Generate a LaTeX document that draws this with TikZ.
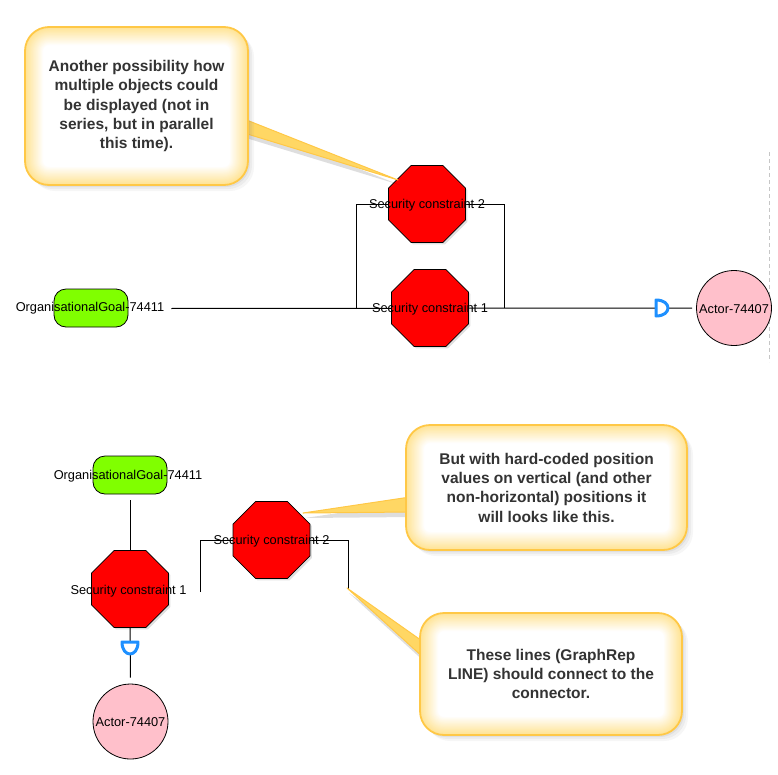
\documentclass[tikz,border=0pt]{standalone}
\usepackage{fontspec}
\setmainfont{Liberation Sans}
\usetikzlibrary{shapes.geometric,shadows}
\definecolor{octred}{RGB}{255,0,0}
\definecolor{goalgreen}{RGB}{128,255,0}
\definecolor{actpink}{RGB}{255,192,203}
\definecolor{dblue}{RGB}{30,144,255}
\definecolor{cborder}{RGB}{255,200,70}
\definecolor{cglow}{RGB}{255,215,100}
\definecolor{ctext}{RGB}{51,51,51}
\definecolor{ctail}{RGB}{255,215,100}
\begin{document}
\begin{tikzpicture}[x=1pt,y=-1pt,
 lbl/.style={font=\fontsize{12.8}{14}\selectfont, text=black, inner sep=0},
 conn/.style={draw=black, line width=1},
 oct/.style={shape=regular polygon, regular polygon sides=8, minimum size=83.3, inner sep=0,
   fill=octred, draw=black, line width=0.8,
   drop shadow={shadow xshift=2pt, shadow yshift=-2pt, opacity=0.25}},
 goal/.style={rounded corners=12, minimum width=74, minimum height=38, fill=goalgreen, draw=black, line width=0.8},
 actor/.style={circle, minimum size=75, inner sep=0, fill=actpink, draw=black, line width=0.8},
 dsym/.style={draw=dblue, line width=3, fill=white, line join=round},
 tail/.style={fill=ctail, draw=cborder, line width=1, line join=round},
 tailshadow/.style={fill=black, opacity=0.13},
 callout/.style={rounded corners=24, draw=cborder, line width=1.8, fill=white, align=center,
   text=ctext, font=\bfseries\fontsize{15.5}{19.3}\selectfont, inner sep=0,
   drop shadow={shadow xshift=6pt, shadow yshift=-6pt, opacity=0.07},
   drop shadow={shadow xshift=4pt, shadow yshift=-4pt, opacity=0.09},
   drop shadow={shadow xshift=2pt, shadow yshift=-2pt, opacity=0.12},
   path picture={
     \foreach \i in {0,...,15}{
       \pgfmathsetmacro\glw{36-2.2*\i}
       \pgfmathsetmacro\glc{4+4.2*\i}
       \draw[line width=\glw, cglow!\glc, rounded corners=24]
         (path picture bounding box.north west) rectangle (path picture bounding box.south east);
     }
   }},
]
\useasboundingbox (0,0) rectangle (778,774);

% ---------- top diagram ----------
\coordinate (dl1) at (769,152);
\coordinate (dl2) at (769,362);
\draw[gray!45, line width=1, dash pattern=on 4pt off 3pt] (dl1) -- (dl2);

\node[goal] (g1) at (91,308) {};
\node[actor] (a1) at (734,308) {};
\coordinate (b1l) at (356,308);
\coordinate (b1r) at (504,308);
\coordinate (s2c) at (427,204);
\draw[conn] (b1l) |- (s2c) -| (b1r);

\node[lbl] (g1t) at (90,308.5) {OrganisationalGoal-74411};
\draw[conn, shorten <=7pt, shorten >=4pt] (g1t.east) -- (a1.west);

\node[oct] (s2) at (s2c) {};
\node[oct] (s1) at (430,308) {};
\node[lbl] (s2t) at (427,205.5) {Security constraint 2};
\node[lbl] (s1t) at (430,309.5) {Security constraint 1};
\node[lbl] (a1t) at (734,309) {Actor-74407};

\coordinate (d1) at (662,308);
\draw[dsym] (d1) ++(-6,-8) -- ++(0,16) .. controls +(16,0) and +(16,0) .. ++(0,-16) -- cycle;

% ---------- bottom diagram ----------
\node[goal] (g2) at (130,475) {};
\node[lbl] (g2t) at (128,476) {OrganisationalGoal-74411};
\node[actor] (a2) at (130.5,721.5) {};
\coordinate (s4c) at (271.5,540);
\coordinate (b2l) at (200,592);
\coordinate (b2r) at (348,589);
\draw[conn] (b2l) |- (s4c) -| (b2r);

\node[oct] (s3) at (130,589) {};
\node[oct] (s4) at (s4c) {};
\draw[conn, shorten <=6pt] (g2) -- (s3);
\draw[conn, shorten >=6pt] (s3) -- (a2);
\node[lbl] (s3t) at (128.5,591) {Security constraint 1};
\node[lbl] (s4t) at (271.5,541.5) {Security constraint 2};
\node[lbl] (a2t) at (130.5,722.5) {Actor-74407};

\coordinate (d2) at (130,648);
\draw[dsym] (d2) ++(-8,-6) -- ++(16,0) .. controls +(0,16) and +(0,16) .. ++(-16,0) -- cycle;

% ---------- callouts ----------
\coordinate (t1a) at (244,119);
\coordinate (t1b) at (244,133);
\coordinate (t1tip) at (398,180);
\fill[tailshadow] ([shift={(2,5)}]t1a) -- ([shift={(2,5)}]t1tip) -- ([shift={(2,5)}]t1b) -- cycle;
\draw[tail] (t1a) -- (t1tip) -- (t1b) -- cycle;
\node[callout, minimum width=223, minimum height=158] (c1) at (136.5,106)
  {Another possibility how\\multiple objects could\\be displayed (not in\\series, but in parallel\\this time).};

\coordinate (t2a) at (410,497);
\coordinate (t2b) at (410,512);
\coordinate (t2tip) at (303,513);
\fill[tailshadow] ([shift={(2,5)}]t2a) -- ([shift={(2,5)}]t2tip) -- ([shift={(2,5)}]t2b) -- cycle;
\draw[tail] (t2a) -- (t2tip) -- (t2b) -- cycle;
\node[callout, minimum width=281, minimum height=125] (c2) at (546.5,487.5)
  {But with hard-coded position\\values on vertical (and other\\non-horizontal) positions it\\will looks like this.};

\coordinate (t3a) at (425,643);
\coordinate (t3b) at (425,659);
\coordinate (t3tip) at (347,588);
\fill[tailshadow] ([shift={(2,5)}]t3a) -- ([shift={(2,5)}]t3tip) -- ([shift={(2,5)}]t3b) -- cycle;
\draw[tail] (t3a) -- (t3tip) -- (t3b) -- cycle;
\node[callout, minimum width=262, minimum height=122] (c3) at (551,674)
  {These lines (GraphRep\\LINE) should connect to the\\connector.};
\end{tikzpicture}
\end{document}
